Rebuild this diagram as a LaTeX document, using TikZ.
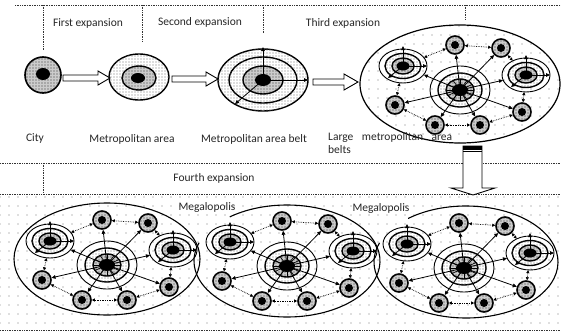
\documentclass[tikz,border=0pt]{standalone}
\usepackage{fontspec}
\setmainfont{Carlito}
\usetikzlibrary{shapes.geometric,arrows.meta,patterns,patterns.meta}

\tikzdeclarepattern{
  name=sparsedots,
  type=uncolored,
  bounding box={(-1pt,-1pt) and (1pt,1pt)},
  tile size={(9pt,9pt)},
  code={\fill (0pt,0pt) circle (0.6pt);}
}
\tikzdeclarepattern{
  name=finedots,
  type=uncolored,
  bounding box={(-1pt,-1pt) and (1pt,1pt)},
  tile size={(3pt,3pt)},
  code={\fill (0pt,0pt) circle (0.62pt);}
}

\tikzset{
  ring/.style={line width=1.4pt},
  thinring/.style={line width=0.9pt},
  graydot/.style={fill=gray!40, postaction={pattern=finedots, pattern color=black!80}},
  whitedot/.style={fill=white, postaction={pattern=finedots, pattern color=black!55}},
  sat/.style={circle, minimum size=18pt, inner sep=0pt, line width=1.6pt, draw, fill=gray!40, postaction={pattern=finedots, pattern color=black!80}},
  hubnode/.style={ellipse, inner sep=0pt, draw=none},
  spoke/.style={-{Triangle[length=4pt,width=3.6pt]}, line width=0.8pt},
  link/.style={{Triangle[length=3pt,width=3pt]}-{Triangle[length=3pt,width=3pt]}, densely dotted, line width=0.7pt},
  lab/.style={font=\fontsize{11.5}{13}\selectfont, text=black!85, inner sep=0pt},
  sepline/.style={densely dotted, line width=0.7pt, black!80},
  block/.style={draw, line width=0.9pt, fill=white, line join=miter}
}

\newcommand\subhubat[2]{%
  \begin{scope}[shift={#1}]
    \draw[thinring] (0,0) ellipse [x radius=24, y radius=17];
    \draw[ring, whitedot] (0,0) ellipse [x radius=18, y radius=12.5];
    \draw[ring, graydot] (0,0) ellipse [x radius=11, y radius=8];
    \draw[spoke] (0,0) -- (0,-20);
    \draw[spoke] (0,0) -- (24,0);
    \draw[spoke] (0,0) -- (-15,12);
    \fill (0,0) ellipse [x radius=6.5, y radius=4.5];
  \end{scope}
  \node[hubnode, minimum width=48pt, minimum height=34pt] (#2) at #1 {};
}
\newcommand\satat[2]{%
  \node[sat] (#2) at #1 {};
  \fill #1 circle (4);
}

\tikzset{
  cluster/.pic={
    \subhubat{(-57,-24)}{-L}
    \subhubat{(66,-15)}{-R}
    \draw[thinring] (0,0) ellipse [x radius=30, y radius=24];
    \draw[ring, whitedot] (0,0) ellipse [x radius=22, y radius=17];
    \draw[ring, graydot] (0,0) ellipse [x radius=14, y radius=11];
    \foreach \a in {0,30,...,330} \draw[line width=0.7pt] (0,0) -- (\a:14 and 11);
    \node[hubnode, minimum width=60pt, minimum height=48pt] (-hub) at (0,0) {};
    \satat{(-5,-45)}{-s1}
    \satat{(41,-42)}{-s2}
    \satat{(-65,15)}{-s3}
    \satat{(-25,35)}{-s4}
    \satat{(20,35)}{-s5}
    \satat{(62,22)}{-s6}
    \foreach \t in {L,R,s1,s2,s3,s4,s5,s6} \draw[spoke] (-hub.center) -- (-\t);
    \draw[link] (-L) -- (-s1);
    \draw[link] (-s1) -- (-s2);
    \draw[link] (-s2) -- (-R);
    \draw[link] (-R) -- (-s6);
    \draw[link] (-s6) -- (-s5);
    \draw[link] (-s5) -- (-s4);
    \draw[link] (-s4) -- (-s3);
    \draw[link] (-s3) -- (-L);
    \fill (0,0) ellipse [x radius=8, y radius=6];
  }
}

\begin{document}
\begin{tikzpicture}[x=1pt, y=-1pt]
\useasboundingbox (0,0) rectangle (561,332);

% lower dotted field
\fill[pattern=sparsedots, pattern color=black!55] (0,194) rectangle (561,330);

% separator lines
\draw[sepline] (15,5) -- (561,5);
\draw[sepline] (43,5) -- (43,50);
\draw[sepline] (142,5) -- (142,42);
\draw[sepline] (263,5) -- (263,33);
\draw[sepline] (465,5) -- (465,20);
\draw[sepline] (0,163) -- (561,163);
\draw[sepline] (43,163) -- (43,192);
\draw[sepline] (0,194) -- (561,194);
\draw[sepline] (0,330) -- (561,330);

% labels top
\node[lab] (t1) at (88,23) {First expansion};
\node[lab] (t2) at (200,22) {Second expansion};
\node[lab] (t3) at (343,23) {Third expansion};
\node[lab] (t4) at (214,178) {Fourth expansion};

% city
\node[circle, minimum size=36pt, inner sep=0pt, line width=1.6pt, draw, graydot] (city) at (43,75) {};
\fill (43,74) ellipse [x radius=7, y radius=6];
\node[lab] (lcity) at (35,138) {City};

% metropolitan area
\draw[ring, whitedot] (139,77) ellipse [x radius=30, y radius=23];
\draw[ring, graydot] (139,78) ellipse [x radius=17, y radius=12];
\fill (138,78) ellipse [x radius=7, y radius=5];
\node[lab] (lmet) at (132,139) {Metropolitan area};

% metropolitan area belt
\draw[ring, whitedot] (263,80) ellipse [x radius=45, y radius=31];
\draw[ring, whitedot] (263,80) ellipse [x radius=34, y radius=23];
\draw[ring, graydot] (263,80) ellipse [x radius=20, y radius=14];
\draw[spoke] (263,80) -- (263,47);
\draw[spoke] (263,80) -- (308,80);
\draw[spoke] (263,80) -- (235,104);
\fill (263,80) ellipse [x radius=8, y radius=6];
\node[lab] (lbelt) at (254,139) {Metropolitan area belt};

% block arrows
\draw[block] (63,75) -- (98,75) -- (98,71) -- (110,78) -- (98,85) -- (98,81) -- (63,81) -- cycle;
\draw[block] (172,76) -- (206,76) -- (206,72) -- (218,79) -- (206,86) -- (206,82) -- (172,82) -- cycle;
\draw[block] (313,79) -- (344,79) -- (344,74) -- (358,82) -- (344,90) -- (344,85) -- (313,85) -- cycle;

% third expansion
\draw[line width=1.2pt, pattern=sparsedots, pattern color=black!55] (460,84) ellipse [x radius=100, y radius=59];
\pic (c) at (460,90) {cluster};
\node[lab, anchor=west] (llarge) at (328,137) {\makebox[124pt][s]{Large metropolitan area}};
\node[lab, anchor=west] (lbelts) at (328,150) {belts};

% down arrow
\draw[block] (463,146) -- (482,146) -- (482,188) -- (495,188) -- (473,195) -- (451,188) -- (463,188) -- cycle;
\fill (463,146) rectangle (482,149.5);
\draw[line width=0.8pt] (463,151.5) -- (482,151.5);

% megalopolis ellipses
\draw[line width=1.1pt] (107,259) ellipse [x radius=93, y radius=56];
\draw[line width=1.1pt] ([shift={(287,261)}]-128:93 and 56) arc [start angle=-128, end angle=199, x radius=93, y radius=56];
\draw[line width=1.1pt] ([shift={(466,262)}]-129:92 and 56) arc [start angle=-129, end angle=200, x radius=92, y radius=56];
\node[lab] (lm1) at (207,207) {Megalopolis};
\node[lab] (lm2) at (381,208) {Megalopolis};

\begin{scope}[shift={(107,265)}, xscale=0.93]
  \pic (m1) at (0,0) {cluster};
\end{scope}
\begin{scope}[shift={(287,266)}, xscale=0.93]
  \pic (m2) at (0,0) {cluster};
\end{scope}
\begin{scope}[shift={(464,268)}, xscale=0.93]
  \pic (m3) at (0,0) {cluster};
\end{scope}
\end{tikzpicture}
\end{document}
